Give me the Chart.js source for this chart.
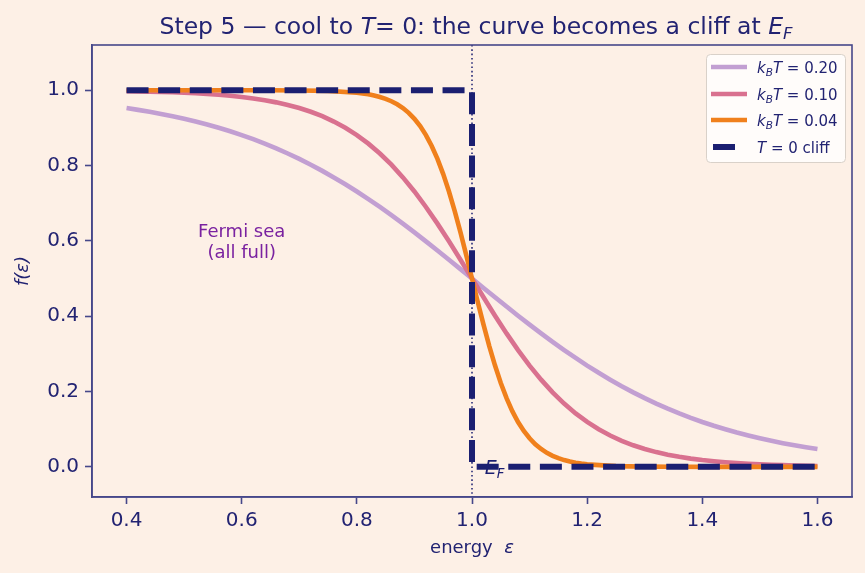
<!DOCTYPE html>
<html><head><meta charset="utf-8">
<script src="https://cdn.jsdelivr.net/npm/chart.js@4.4.0/dist/chart.umd.min.js"></script>
<style>html,body{margin:0;padding:0;background:#fdf0e6;}#wrap{width:865px;height:573px;}canvas{display:block;}</style>
</head><body><div id="wrap"><canvas id="c" width="865" height="573"></canvas></div>
<script>
// ---- data ----
const energy = [0.40,0.42,0.44,0.46,0.48,0.50,0.52,0.54,0.56,0.58,0.60,0.62,0.64,0.66,0.68,0.70,0.72,0.74,0.76,0.78,0.80,0.82,0.84,0.86,0.88,0.90,0.92,0.94,0.96,0.98,1.00,1.02,1.04,1.06,1.08,1.10,1.12,1.14,1.16,1.18,1.20,1.22,1.24,1.26,1.28,1.30,1.32,1.34,1.36,1.38,1.40,1.42,1.44,1.46,1.48,1.50,1.52,1.54,1.56,1.58,1.60];
const f_kT020 = [0.9526,0.9478,0.9427,0.9370,0.9309,0.9241,0.9168,0.9089,0.9002,0.8909,0.8808,0.8699,0.8581,0.8455,0.8320,0.8176,0.8022,0.7858,0.7685,0.7503,0.7311,0.7109,0.6900,0.6682,0.6457,0.6225,0.5987,0.5744,0.5498,0.5250,0.5000,0.4750,0.4502,0.4256,0.4013,0.3775,0.3543,0.3318,0.3100,0.2891,0.2689,0.2497,0.2315,0.2142,0.1978,0.1824,0.1680,0.1545,0.1419,0.1301,0.1192,0.1091,0.0998,0.0911,0.0832,0.0759,0.0691,0.0630,0.0573,0.0522,0.0474];
const f_kT010 = [0.9975,0.9970,0.9963,0.9955,0.9945,0.9933,0.9918,0.9900,0.9879,0.9852,0.9820,0.9781,0.9734,0.9677,0.9608,0.9526,0.9427,0.9309,0.9168,0.9002,0.8808,0.8581,0.8320,0.8022,0.7685,0.7311,0.6900,0.6457,0.5987,0.5498,0.5000,0.4502,0.4013,0.3543,0.3100,0.2689,0.2315,0.1978,0.1680,0.1419,0.1192,0.0998,0.0832,0.0691,0.0573,0.0474,0.0392,0.0323,0.0266,0.0219,0.0180,0.0148,0.0121,0.0100,0.0082,0.0067,0.0055,0.0045,0.0037,0.0030,0.0025];
const energyFine = [0.40,0.50,0.60,0.65,0.70,0.75,0.80,0.81,0.82,0.83,0.84,0.85,0.86,0.87,0.88,0.89,0.90,0.91,0.92,0.93,0.94,0.95,0.96,0.97,0.98,0.99,1.00,1.01,1.02,1.03,1.04,1.05,1.06,1.07,1.08,1.09,1.10,1.11,1.12,1.13,1.14,1.15,1.16,1.17,1.18,1.19,1.20,1.25,1.30,1.35,1.40,1.50,1.60];
const f_kT004 = [1.0000,1.0000,1.0000,0.9998,0.9994,0.9981,0.9933,0.9914,0.9890,0.9859,0.9820,0.9770,0.9707,0.9627,0.9526,0.9399,0.9241,0.9047,0.8808,0.8520,0.8176,0.7773,0.7311,0.6792,0.6225,0.5622,0.5000,0.4378,0.3775,0.3208,0.2689,0.2227,0.1824,0.1480,0.1192,0.0953,0.0759,0.0601,0.0474,0.0373,0.0293,0.0230,0.0180,0.0141,0.0110,0.0086,0.0067,0.0019,0.0006,0.0002,0.0000,0.0000,0.0000];
const cliffEnergy = [0.40,1.00,1.00,1.60];
const cliffF = [1,1,0,0];
const kTValues = [0.20,0.10,0.04];
const xTicks = [0.4,0.6,0.8,1.0,1.2,1.4,1.6];
const yTicks = [0.0,0.2,0.4,0.6,0.8,1.0];
const fermiEnergy = 1.0;

// ---- styling ----
const BG='#fdf0e6', NAVY='#1b1f71', TXT='#222372', SPINE='#46488a';
const COLORS=['#c29fd2','#d9718f','#f0801c'];
const FONT='"DejaVu Sans", sans-serif';
const pts=(xs,ys)=>xs.map((x,i)=>({x:x,y:ys[i]}));

function drawRich(ctx, segs, x, y, size, color, align){
  let w=0;
  const parts=segs.map(s=>{const fs=s.sub?size*0.7:size;const font=(s.it?'italic ':'')+fs+'px '+FONT;ctx.font=font;const mw=ctx.measureText(s.t).width;w+=mw;return {s,font,mw};});
  let cx=align==='center'?x-w/2:(align==='right'?x-w:x);
  ctx.save();ctx.fillStyle=color;ctx.textAlign='left';ctx.textBaseline='alphabetic';
  for(const p of parts){ctx.font=p.font;ctx.fillText(p.s.t,cx,y+(p.s.sub?size*0.22:0));cx+=p.mw;}
  ctx.restore();
}

const decor={
  id:'decor',
  beforeDraw(chart){const c=chart.ctx;c.save();c.fillStyle=BG;c.fillRect(0,0,chart.width,chart.height);c.restore();},
  beforeDatasetsDraw(chart){
    const {ctx,chartArea:a,scales:{x}}=chart;const px=x.getPixelForValue(fermiEnergy);
    ctx.save();ctx.strokeStyle=NAVY;ctx.lineWidth=1.5;ctx.setLineDash([1.6,2.7]);
    ctx.beginPath();ctx.moveTo(px,a.top);ctx.lineTo(px,a.bottom);ctx.stroke();ctx.restore();
  },
  afterDatasetsDraw(chart){
    const {ctx,chartArea:a}=chart;
    ctx.save();ctx.strokeStyle=SPINE;ctx.lineWidth=1.6;ctx.strokeRect(a.left,a.top,a.right-a.left,a.bottom-a.top);ctx.restore();
  },
  afterDraw(chart){
    const {ctx,chartArea:a,scales:{x,y}}=chart;
    // title
    drawRich(ctx,[{t:'Step 5 — cool to '},{t:'T',it:true},{t:'= 0: the curve becomes a cliff at '},{t:'E',it:true},{t:'F',it:true,sub:true}],(a.left+a.right)/2+4,34,23.5,TXT,'center');
    // x axis title
    drawRich(ctx,[{t:'energy  '},{t:'ε',it:true}],(a.left+a.right)/2,553,18,TXT,'center');
    // annotation
    ctx.save();ctx.fillStyle='#7a22a0';ctx.font='18px '+FONT;ctx.textAlign='center';ctx.textBaseline='middle';
    const ax=x.getPixelForValue(0.6), ay=y.getPixelForValue(0.595);
    ctx.fillText('Fermi sea',ax,ay-10.5);ctx.fillText('(all full)',ax,ay+10.5);ctx.restore();
    // E_F label
    drawRich(ctx,[{t:'E',it:true},{t:'F',it:true,sub:true}],x.getPixelForValue(1.022),y.getPixelForValue(0)+7,19,NAVY,'left');
    // legend
    ctx.save();
    ctx.fillStyle='rgba(255,255,255,0.8)';ctx.strokeStyle='#d9d1c9';ctx.lineWidth=1;
    ctx.beginPath();ctx.roundRect(706.5,54.5,139,108,4);ctx.fill();ctx.stroke();
    const rows=[67,94,120,147];
    chart.data.datasets.forEach((ds,i)=>{
      const ry=rows[i];
      ctx.save();ctx.strokeStyle=ds.borderColor;ctx.lineWidth=ds.borderWidth;ctx.lineCap='butt';
      ctx.beginPath();
      if(ds.borderDash&&ds.borderDash.length){ctx.moveTo(713,ry);ctx.lineTo(735,ry);}else{ctx.moveTo(711,ry);ctx.lineTo(747,ry);}
      ctx.stroke();ctx.restore();
      drawRich(ctx,ds.legendSegs,757,ry+5.5,15,TXT,'left');
    });
    ctx.restore();
  }
};

const curveDatasets=[[energy,f_kT020],[energy,f_kT010],[energyFine,f_kT004]].map(([xs,ys],i)=>({
  label:'k_BT = '+kTValues[i].toFixed(2),
  legendSegs:[{t:'k',it:true},{t:'B',it:true,sub:true},{t:'T',it:true},{t:' = '+kTValues[i].toFixed(2)}],
  data:pts(xs,ys),borderColor:COLORS[i],backgroundColor:COLORS[i],borderWidth:4.6,
  pointRadius:0,tension:0,fill:false,order:3-i,borderCapStyle:'butt'
}));
const cliffDataset={label:'T = 0 cliff',legendSegs:[{t:'T',it:true},{t:' = 0 cliff'}],
  data:pts(cliffEnergy,cliffF),borderColor:NAVY,backgroundColor:NAVY,borderWidth:6,borderDash:[22,9.6],
  pointRadius:0,tension:0,fill:false,order:0,borderCapStyle:'butt',borderJoinStyle:'miter'};

new Chart(document.getElementById('c'),{
  type:'line',
  data:{datasets:[...curveDatasets,cliffDataset]},
  options:{
    responsive:false,animation:false,devicePixelRatio:1,
    layout:{padding:{top:45,right:13,left:0,bottom:0}},
    plugins:{legend:{display:false},tooltip:{enabled:false},title:{display:false}},
    scales:{
      x:{type:'linear',min:0.34,max:1.66,
        afterBuildTicks:s=>{s.ticks=xTicks.map(v=>({value:v}));},
        afterFit:s=>{s.height=76;},
        ticks:{callback:v=>v.toFixed(1),color:TXT,font:{family:FONT,size:20},padding:5,maxRotation:0,autoSkip:false},
        grid:{drawOnChartArea:false,tickLength:7,tickColor:SPINE,tickWidth:1.6},
        border:{display:true,color:SPINE,width:1.6}},
      y:{type:'linear',min:-0.08,max:1.12,
        afterBuildTicks:s=>{s.ticks=yTicks.map(v=>({value:v}));},
        afterFit:s=>{s.width=92;},
        ticks:{callback:v=>v.toFixed(1),color:TXT,font:{family:FONT,size:20},padding:6,autoSkip:false},
        grid:{drawOnChartArea:false,tickLength:7,tickColor:SPINE,tickWidth:1.6},
        border:{display:true,color:SPINE,width:1.6},
        title:{display:true,text:'f(ε)',color:TXT,font:{family:FONT,size:18,style:'italic'},padding:{top:13,bottom:0}}}
    }
  },
  plugins:[decor]
});
</script></body></html>
